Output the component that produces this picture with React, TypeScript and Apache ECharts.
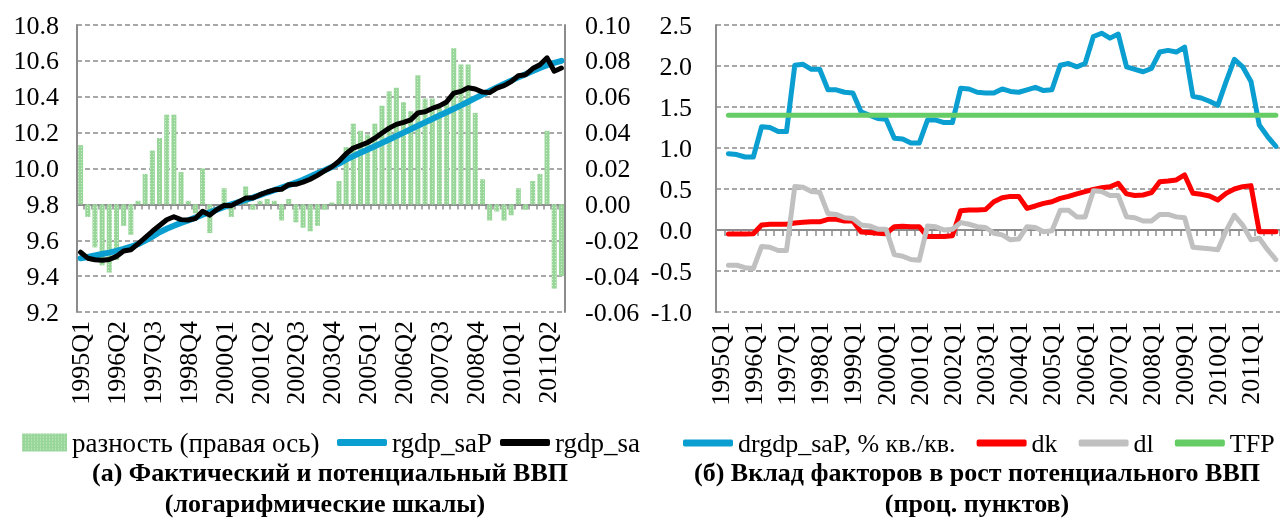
import React, { useEffect, useRef } from "react";
import * as echarts from "echarts";

const quarters = [
  "1995Q1","1995Q2","1995Q3","1995Q4","1996Q1","1996Q2","1996Q3","1996Q4",
  "1997Q1","1997Q2","1997Q3","1997Q4","1998Q1","1998Q2","1998Q3","1998Q4",
  "1999Q1","1999Q2","1999Q3","1999Q4","2000Q1","2000Q2","2000Q3","2000Q4",
  "2001Q1","2001Q2","2001Q3","2001Q4","2002Q1","2002Q2","2002Q3","2002Q4",
  "2003Q1","2003Q2","2003Q3","2003Q4","2004Q1","2004Q2","2004Q3","2004Q4",
  "2005Q1","2005Q2","2005Q3","2005Q4","2006Q1","2006Q2","2006Q3","2006Q4",
  "2007Q1","2007Q2","2007Q3","2007Q4","2008Q1","2008Q2","2008Q3","2008Q4",
  "2009Q1","2009Q2","2009Q3","2009Q4","2010Q1","2010Q2","2010Q3","2010Q4",
  "2011Q1","2011Q2","2011Q3","2011Q4",
];

// (a) left chart
const gapValues = [
  0.033, -0.007, -0.024, -0.034, -0.038, -0.031, -0.012, -0.017, 0.002, 0.017,
  0.030, 0.037, 0.050, 0.050, 0.018, 0.002, -0.005, 0.020, -0.016, 0.000,
  0.009, -0.007, 0.001, 0.010, -0.003, 0.002, 0.003, 0.002, -0.009, 0.003,
  -0.010, -0.013, -0.015, -0.012, -0.003, 0.001, 0.013, 0.032, 0.045, 0.041,
  0.039, 0.045, 0.055, 0.063, 0.065, 0.057, 0.052, 0.072, 0.059, 0.059,
  0.054, 0.057, 0.087, 0.078, 0.078, 0.051, 0.014, -0.009, -0.004, -0.009,
  -0.006, 0.009, -0.003, 0.013, 0.017, 0.041, -0.047, -0.040,
];
const rgdpSaP = [
  9.500, 9.507, 9.515, 9.523, 9.531, 9.541, 9.552, 9.564, 9.578, 9.598,
  9.620, 9.645, 9.664, 9.681, 9.697, 9.711, 9.726, 9.742, 9.756, 9.771,
  9.786, 9.800, 9.813, 9.825, 9.838, 9.852, 9.866, 9.879, 9.893, 9.907,
  9.922, 9.937, 9.955, 9.974, 9.990, 10.008, 10.027, 10.050, 10.069, 10.088,
  10.106, 10.124, 10.143, 10.162, 10.181, 10.200, 10.219, 10.238, 10.257, 10.276,
  10.295, 10.314, 10.333, 10.352, 10.372, 10.392, 10.412, 10.432, 10.452, 10.471,
  10.490, 10.508, 10.526, 10.544, 10.561, 10.576, 10.589, 10.600,
];
const rgdpSa = [
  9.533, 9.500, 9.491, 9.489, 9.493, 9.510, 9.540, 9.547, 9.580, 9.615,
  9.650, 9.682, 9.714, 9.731, 9.715, 9.713, 9.721, 9.762, 9.740, 9.771,
  9.795, 9.793, 9.814, 9.835, 9.835, 9.854, 9.869, 9.881, 9.884, 9.910,
  9.912, 9.924, 9.940, 9.962, 9.987, 10.009, 10.040, 10.082, 10.114, 10.129,
  10.145, 10.169, 10.198, 10.225, 10.246, 10.257, 10.271, 10.310, 10.316, 10.335,
  10.349, 10.371, 10.420, 10.430, 10.450, 10.443, 10.426, 10.423, 10.448, 10.462,
  10.484, 10.517, 10.523, 10.557, 10.578, 10.617, 10.542, 10.560,
];

// (б) right chart
const drgdpSaP = [
  null, 0.93, 0.92, 0.89, 0.89, 1.26, 1.25, 1.20, 1.20, 2.01,
  2.02, 1.96, 1.96, 1.71, 1.71, 1.68, 1.67, 1.44, 1.40, 1.36,
  1.35, 1.12, 1.11, 1.06, 1.06, 1.34, 1.34, 1.31, 1.31, 1.73,
  1.72, 1.68, 1.67, 1.67, 1.72, 1.69, 1.68, 1.71, 1.74, 1.70,
  1.71, 2.01, 2.03, 1.99, 2.03, 2.36, 2.40, 2.34, 2.39, 1.99,
  1.96, 1.93, 1.97, 2.17, 2.19, 2.17, 2.23, 1.63, 1.61, 1.57,
  1.52, 1.81, 2.08, 1.99, 1.81, 1.28, 1.14, 1.02,
];
const dk = [
  null, -0.05, -0.05, -0.05, -0.045, 0.06, 0.07, 0.07, 0.07, 0.085,
  0.095, 0.10, 0.10, 0.13, 0.13, 0.11, 0.11, -0.025, -0.03, -0.04,
  -0.045, 0.04, 0.045, 0.04, 0.04, -0.08, -0.08, -0.08, -0.07, 0.236,
  0.244, 0.244, 0.25, 0.345, 0.394, 0.41, 0.41, 0.264, 0.293, 0.325,
  0.345, 0.386, 0.41, 0.44, 0.467, 0.496, 0.516, 0.528, 0.569, 0.44,
  0.42, 0.427, 0.455, 0.589, 0.598, 0.61, 0.671, 0.447, 0.435, 0.415,
  0.366, 0.447, 0.50, 0.528, 0.541, -0.02, -0.02, -0.02,
];
const dl = [
  null, -0.43, -0.43, -0.46, -0.47, -0.20, -0.21, -0.25, -0.25, 0.53,
  0.52, 0.47, 0.46, 0.20, 0.19, 0.15, 0.14, 0.06, 0.05, 0.01,
  0.01, -0.30, -0.32, -0.36, -0.37, 0.05, 0.04, 0.00, 0.01, 0.09,
  0.07, 0.04, 0.03, -0.04, -0.06, -0.12, -0.11, 0.04, 0.03, -0.02,
  -0.01, 0.24, 0.24, 0.16, 0.16, 0.48, 0.47, 0.42, 0.42, 0.16,
  0.15, 0.11, 0.11, 0.19, 0.19, 0.16, 0.15, -0.21, -0.22, -0.23,
  -0.24, -0.01, 0.18, 0.06, -0.12, -0.10, -0.24, -0.36,
];
const tfp = [
  null, 1.40, 1.40, 1.40, 1.40, 1.40, 1.40, 1.40, 1.40, 1.40,
  1.40, 1.40, 1.40, 1.40, 1.40, 1.40, 1.40, 1.40, 1.40, 1.40,
  1.40, 1.40, 1.40, 1.40, 1.40, 1.40, 1.40, 1.40, 1.40, 1.40,
  1.40, 1.40, 1.40, 1.40, 1.40, 1.40, 1.40, 1.40, 1.40, 1.40,
  1.40, 1.40, 1.40, 1.40, 1.40, 1.40, 1.40, 1.40, 1.40, 1.40,
  1.40, 1.40, 1.40, 1.40, 1.40, 1.40, 1.40, 1.40, 1.40, 1.40,
  1.40, 1.40, 1.40, 1.40, 1.40, 1.40, 1.40, 1.40,
];

const FONT = "Liberation Serif";
const GRID_LINE = "#8c8c8c";
const BLUE = "#0a9fd0";

export default function App() {
  const ref = useRef<HTMLDivElement>(null);

  useEffect(() => {
    if (!ref.current) return;
    const chart = echarts.init(ref.current, undefined, { renderer: "svg" });

    const dashed = () => ({ show: true, lineStyle: { color: GRID_LINE, width: 1.5, type: [5, 3] as any } });
    const solidAxis = () => ({ show: true, lineStyle: { color: GRID_LINE, width: 2 } });
    const titleStyle = (text: string) => ({
      text,
      fontFamily: FONT,
      fontSize: 26,
      fontWeight: "bold",
      fill: "#000",
      textAlign: "center",
      textVerticalAlign: "middle",
    });
    const lbl = (extra: any) => ({ fontFamily: FONT, fontSize: 26, color: "#000", ...extra });
    const legText = (size: number) => ({ fontFamily: FONT, fontSize: size, color: "#000" });

    chart.setOption({
      animation: false,
      grid: [
        { left: 77, top: 25, width: 488, height: 287 },
        { left: 716, top: 25, width: 564, height: 287 },
      ],
      xAxis: [
        {
          type: "category", gridIndex: 0, data: quarters, boundaryGap: true,
          axisLine: solidAxis(),
          axisTick: { show: true, interval: 0, length: 5, lineStyle: { color: GRID_LINE, width: 1.5 } },
          axisLabel: lbl({ interval: 4, rotate: 90, margin: 9 }),
          splitLine: { show: false },
        },
        {
          type: "category", gridIndex: 1, data: quarters, boundaryGap: true,
          axisLine: { show: true, onZero: true, lineStyle: { color: GRID_LINE, width: 2 } },
          axisTick: { show: true, interval: 0, length: 6, lineStyle: { color: GRID_LINE, width: 1.5 } },
          axisLabel: { show: false },
          splitLine: { show: false },
        },
        {
          type: "category", gridIndex: 1, data: quarters, boundaryGap: true, position: "bottom",
          axisLine: { show: false, onZero: false },
          axisTick: { show: false },
          axisLabel: lbl({ interval: 3, rotate: 90, margin: 10 }),
          splitLine: { show: false },
        },
      ],
      yAxis: [
        {
          type: "value", gridIndex: 0, min: 9.2, max: 10.8, interval: 0.2,
          axisLine: solidAxis(), axisTick: { show: false },
          splitLine: dashed(),
          axisLabel: lbl({ margin: 18, formatter: (v: number) => v.toFixed(1) }),
        },
        {
          type: "value", gridIndex: 0, min: -0.06, max: 0.1, interval: 0.02, position: "right",
          axisLine: solidAxis(), axisTick: { show: false },
          splitLine: { show: false },
          axisLabel: lbl({ margin: 20, formatter: (v: number) => v.toFixed(2) }),
        },
        {
          type: "value", gridIndex: 1, min: -1, max: 2.5, interval: 0.5,
          axisLine: solidAxis(), axisTick: { show: false },
          splitLine: dashed(),
          axisLabel: lbl({ margin: 24, formatter: (v: number) => v.toFixed(1) }),
        },
      ],
      legend: [
        {
          left: 22, top: 429, padding: 0, itemWidth: 45, itemHeight: 18, itemGap: 0,
          textStyle: legText(27),
          data: [{ name: "разность (правая ось)", icon: "rect", textStyle: legText(27) }],
        },
        {
          left: 337, top: 429, padding: 0, itemWidth: 50, itemHeight: 7, itemGap: 8,
          textStyle: legText(27),
          data: [
            { name: "rgdp_saP", icon: "roundRect", textStyle: legText(27) },
            { name: "rgdp_sa", icon: "roundRect", textStyle: legText(27) },
          ],
        },
        {
          left: 683, top: 430, padding: 0, itemWidth: 50, itemHeight: 7, itemGap: 21,
          width: 597,
          textStyle: legText(26),
          data: [
            { name: "drgdp_saP, % кв./кв.", icon: "roundRect", textStyle: legText(26) },
            { name: "dk", icon: "roundRect", textStyle: legText(26) },
            { name: "dl", icon: "roundRect", textStyle: legText(26) },
            { name: "TFP", icon: "roundRect", textStyle: legText(26) },
          ],
        },
      ],
      series: [
        {
          name: "разность (правая ось)", type: "bar", xAxisIndex: 0, yAxisIndex: 1,
          data: gapValues, barCategoryGap: "30%",
          itemStyle: {
            color: "#99d699",
            decal: {
              symbol: "rect", symbolSize: 1,
              dashArrayX: [1, 2], dashArrayY: [1, 2],
              color: "rgba(255,255,255,0.55)",
            },
          },
        },
        {
          name: "rgdp_saP", type: "line", xAxisIndex: 0, yAxisIndex: 0,
          data: rgdpSaP, symbol: "none", color: BLUE,
          lineStyle: { width: 6, color: BLUE, cap: "round", join: "round" },
        },
        {
          name: "rgdp_sa", type: "line", xAxisIndex: 0, yAxisIndex: 0,
          data: rgdpSa, symbol: "none", color: "#000",
          lineStyle: { width: 5, color: "#000", cap: "round", join: "round" },
        },
        {
          name: "drgdp_saP, % кв./кв.", type: "line", xAxisIndex: 1, yAxisIndex: 2,
          data: drgdpSaP, symbol: "none", color: BLUE,
          lineStyle: { width: 5, color: BLUE, cap: "round", join: "round" },
        },
        {
          name: "dk", type: "line", xAxisIndex: 1, yAxisIndex: 2,
          data: dk, symbol: "none", color: "#ff0000",
          lineStyle: { width: 5, color: "#ff0000", cap: "round", join: "round" },
        },
        {
          name: "dl", type: "line", xAxisIndex: 1, yAxisIndex: 2,
          data: dl, symbol: "none", color: "#c0c0c0",
          lineStyle: { width: 5, color: "#c0c0c0", cap: "round", join: "round" },
        },
        {
          name: "TFP", type: "line", xAxisIndex: 1, yAxisIndex: 2,
          data: tfp, symbol: "none", color: "#66cc66",
          lineStyle: { width: 5, color: "#66cc66", cap: "round", join: "round" },
        },
      ],
      graphic: [
        { type: "text", x: 330, y: 472, style: titleStyle("(а) Фактический и потенциальный ВВП") },
        { type: "text", x: 325, y: 503, style: titleStyle("(логарифмические шкалы)") },
        { type: "text", x: 977, y: 472, style: titleStyle("(б) Вклад факторов в рост потенциального ВВП") },
        { type: "text", x: 977, y: 503, style: titleStyle("(проц. пунктов)") },
      ],
    });

    return () => chart.dispose();
  }, []);

  return (
    <div
      ref={ref}
      style={{ position: "fixed", left: 0, top: 0, width: 1280, height: 524 }}
    />
  );
}
